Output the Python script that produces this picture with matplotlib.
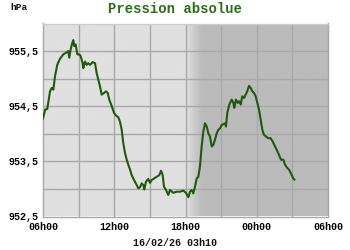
import matplotlib
matplotlib.use("Agg")
import matplotlib.pyplot as plt
import numpy as np
from matplotlib.colors import LinearSegmentedColormap

# hours since 15/02 06h00
hours = [0.0, 0.19, 0.36, 0.59, 0.73, 0.87, 1.01, 1.20, 1.43, 1.71, 1.94, 2.13, 2.21, 2.33, 2.47,
         2.55, 2.64, 2.75, 2.89, 3.06, 3.17, 3.34, 3.39, 3.54, 3.68, 3.81, 3.96, 4.19, 4.38, 4.52,
         4.66, 4.80, 4.94, 5.14, 5.31, 5.45, 5.58, 5.79, 5.98, 6.15, 6.34, 6.48, 6.63, 6.76, 6.91,
         7.05, 7.18, 7.33, 7.47, 7.60, 7.75, 7.89, 8.03, 8.17, 8.31, 8.45, 8.53, 8.67, 8.87, 9.01,
         9.15, 9.35, 9.57, 9.79, 9.94, 10.08, 10.19, 10.36, 10.55, 10.69, 10.97, 11.26, 11.54, 11.81,
         12.04, 12.24, 12.38, 12.52, 12.66, 12.80, 12.94, 13.08, 13.22, 13.36, 13.50, 13.64, 13.79,
         13.92, 14.06, 14.21, 14.34, 14.48, 14.63, 14.76, 14.91, 15.05, 15.33, 15.41, 15.52, 15.69,
         15.89, 16.03, 16.11, 16.25, 16.40, 16.53, 16.65, 16.78, 16.93, 17.07, 17.20, 17.35, 17.49,
         17.63, 17.77, 17.91, 18.05, 18.19, 18.33, 18.47, 18.61, 18.78, 18.97, 19.17, 19.34, 19.48,
         19.68, 19.87, 20.04, 20.24, 20.38, 20.57, 20.72, 20.86, 21.08, 21.17]
pressure = [954.28, 954.44, 954.45, 954.77, 954.83, 954.80, 955.04, 955.25, 955.36, 955.44, 955.47,
            955.50, 955.38, 955.53, 955.65, 955.70, 955.59, 955.62, 955.44, 955.44, 955.41, 955.28,
            955.19, 955.31, 955.25, 955.28, 955.25, 955.30, 955.28, 955.10, 954.98, 954.86, 954.71,
            954.74, 954.77, 954.74, 954.62, 954.50, 954.38, 954.33, 954.30, 954.22, 954.07, 953.83,
            953.65, 953.53, 953.44, 953.35, 953.25, 953.19, 953.13, 953.07, 953.01, 953.03, 953.10,
            953.07, 952.99, 953.13, 953.18, 953.11, 953.16, 953.19, 953.22, 953.25, 953.33, 953.25,
            953.04, 952.98, 952.89, 952.98, 952.93, 952.95, 952.95, 952.97, 952.93, 952.85, 952.95,
            952.98, 952.92, 953.04, 953.19, 953.22, 953.41, 953.77, 954.04, 954.19, 954.13, 954.01,
            953.95, 953.77, 953.80, 953.89, 954.01, 954.07, 954.10, 954.16, 954.19, 954.13, 954.38,
            954.53, 954.62, 954.56, 954.47, 954.62, 954.56, 954.59, 954.53, 954.68, 954.65, 954.71,
            954.77, 954.87, 954.83, 954.77, 954.74, 954.68, 954.56, 954.44, 954.25, 954.07, 953.98,
            953.95, 953.92, 953.92, 953.86, 953.80, 953.71, 953.62, 953.53, 953.53, 953.44, 953.38,
            953.35, 953.29, 953.19, 953.17]

xtick_pos = [0, 6, 12, 18, 24]
xtick_labels = ["06h00", "12h00", "18h00", "00h00", "06h00"]
ytick_pos = [952.5, 953.5, 954.5, 955.5]
ytick_labels = ["952,5", "953,5", "954,5", "955,5"]
title = "Pression absolue"
unit = "hPa"
footer = "16/02/26 03h10"
dusk_start, dusk_end = 12.0, 13.4

mono = "Liberation Mono"
fig = plt.figure(figsize=(3.5, 2.5), dpi=100)
fig.patch.set_facecolor("white")
ax = fig.add_axes([43/350, 1 - 216.5/250, 285/350, 193/250])
ax.set_xlim(0, 24)
ax.set_ylim(952.5, 956.0)

# background: day / gradient / night
day = np.array([0xe0, 0xe0, 0xe0]) / 255
night = np.array([0xbb, 0xbb, 0xbb]) / 255
cmap = LinearSegmentedColormap.from_list("dn", [day, night])
xs = np.linspace(0, 24, 961)
vals = np.clip((xs - dusk_start) / (dusk_end - dusk_start), 0, 1)
ax.imshow(vals[np.newaxis, :], extent=[0, 24, 952.5, 956.0], aspect="auto",
          cmap=cmap, vmin=0, vmax=1, zorder=0, interpolation="bilinear")

for gx in np.arange(3, 24, 3):
    ax.axvline(gx, color="#a8a8a8", lw=1.0, zorder=1)
for gy in np.arange(953.0, 956.0, 0.5):
    ax.axhline(gy, color="#a8a8a8", lw=1.0, zorder=1)

ax.plot(hours, pressure, color="#1f5a0c", lw=1.5, zorder=3)

ax.set_xticks(xtick_pos)
ax.set_xticklabels(xtick_labels, fontfamily=mono, fontweight="bold", fontsize=7.2)
ax.set_yticks(ytick_pos)
ax.set_yticklabels(ytick_labels, fontfamily=mono, fontweight="bold", fontsize=7.2)
ax.tick_params(length=0, pad=3)
ax.tick_params(axis="x", pad=4)
for s in ax.spines.values():
    s.set_color("#a8a8a8")
    s.set_linewidth(1.0)
ax.spines["top"].set_color("#cccccc")

fig.text(0.5, 1 - 9/250, title, ha="center", va="center", fontfamily=mono,
         fontweight="bold", fontsize=10, color="#2a6e1a")
fig.text(10/350, 1 - 7/250, unit, ha="left", va="center", fontfamily=mono,
         fontweight="bold", fontsize=6.8, color="#111111")
fig.text(0.5, 1 - 243/250, footer, ha="center", va="center", fontfamily=mono,
         fontweight="bold", fontsize=7.2, color="#111111")

fig.savefig("out.png", dpi=100, facecolor="white")
